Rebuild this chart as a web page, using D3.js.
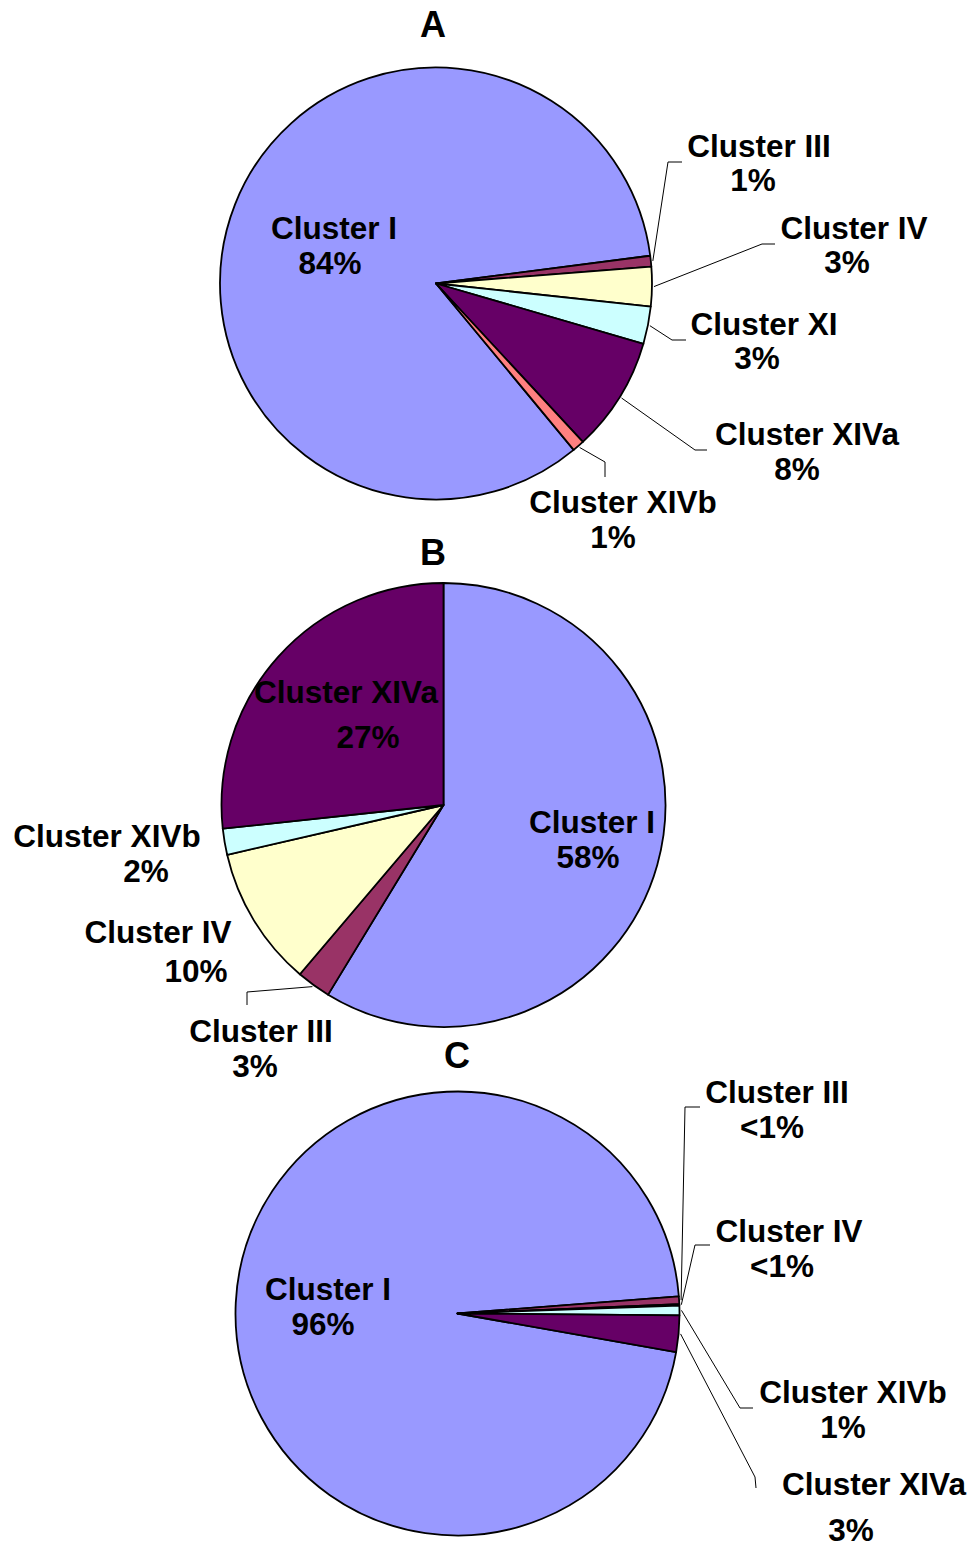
<!DOCTYPE html>
<html>
<head>
<meta charset="utf-8">
<script src="https://cdn.jsdelivr.net/npm/d3@7"></script>
<style>
  body { margin: 0; background: #fff; }
  svg text { font-family: "Liberation Sans", Arial, sans-serif; font-weight: bold; fill: #000; }
</style>
</head>
<body>
<svg id="chart" width="974" height="1548"></svg>
<script>
// ---- data (percent of clones per cluster) ----
const panels = ["A", "B", "C"];

const clustersA = ["Cluster I", "Cluster III", "Cluster IV", "Cluster XI", "Cluster XIVa", "Cluster XIVb"];
const valuesA = [83.95, 0.8, 2.95, 2.8, 8.6, 0.9];
const pctA = ["84%", "1%", "3%", "3%", "8%", "1%"];
const colorsA = ["#9999FF", "#993366", "#FFFFCC", "#CCFFFF", "#660066", "#FF8080"];

const clustersB = ["Cluster I", "Cluster III", "Cluster IV", "Cluster XIVb", "Cluster XIVa"];
const valuesB = [58.7, 2.5, 10.2, 1.9, 26.7];
const pctB = ["58%", "3%", "10%", "2%", "27%"];
const colorsB = ["#9999FF", "#993366", "#FFFFCC", "#CCFFFF", "#660066"];

const clustersC = ["Cluster I", "Cluster III", "Cluster IV", "Cluster XIVb", "Cluster XIVa"];
const valuesC = [96.0, 0.55, 0.1, 0.7, 2.65];
const pctC = ["96%", "<1%", "<1%", "1%", "3%"];
const colorsC = ["#9999FF", "#993366", "#FFFFCC", "#CCFFFF", "#660066"];

// ---- layout ----
// label: [x line1, y line1, x line2, y line2], leader: [elbow x, elbow y, end x, end y]
const layoutA = {
  cx: 436, cy: 283.5, r: 216, rot: 140.4, title: [433, 37],
  labels: [[334, 239, 330, 274], [759, 157, 753, 191], [854, 239, 847, 273],
           [764, 335, 757, 369], [807, 445, 797, 480], [623, 513, 613, 548]],
  leaders: [null, [668, 162, 682, 162], [762, 244, 775, 244],
            [672, 340, 686, 340], [695, 450, 707, 450], [605, 462, 605, 477]]
};
const layoutB = {
  cx: 443.5, cy: 805, r: 222, rot: 0, title: [433, 565],
  labels: [[592, 833, 588, 868], [261, 1042, 255, 1077], [158, 943, 196, 982],
           [107, 847, 146, 882], [346, 703, 368, 748]],
  leaders: [null, [247, 992, 247, 1005], null, null, null]
};
const layoutC = {
  cx: 457.5, cy: 1313.5, r: 222, rot: 100, title: [457, 1068],
  labels: [[328, 1300, 323, 1335], [777, 1103, 772, 1138], [789, 1242, 782, 1277],
           [853, 1403, 843, 1438], [874, 1495, 851, 1541]],
  leaders: [null, [685, 1107, 700, 1107], [695, 1245, 710, 1245],
            [740, 1408, 753, 1408], [755, 1477, 756, 1488]]
};

const svg = d3.select("#chart");

function drawPie(title, names, values, pcts, colors, lay) {
  const g = svg.append("g");
  const start = lay.rot * Math.PI / 180;

  const pie = d3.pie().sort(null).value(d => d)
    .startAngle(start).endAngle(start + 2 * Math.PI);
  const arcs = pie(values);

  const arc = d3.arc().innerRadius(0).outerRadius(lay.r);
  const edge = d3.arc().innerRadius(lay.r + 2).outerRadius(lay.r + 2);

  const body = g.append("g").attr("transform", `translate(${lay.cx},${lay.cy})`);
  body.selectAll("path")
    .data(arcs)
    .enter().append("path")
    .attr("d", arc)
    .attr("fill", (d, i) => colors[i])
    .attr("stroke", "#000")
    .attr("stroke-width", 1.8)
    .attr("stroke-linejoin", "round");

  // leader lines
  const line = d3.line();
  arcs.forEach((d, i) => {
    const ld = lay.leaders[i];
    if (!ld) return;
    const p = edge.centroid(d);
    g.append("path")
      .attr("d", line([[lay.cx + p[0], lay.cy + p[1]], [ld[0], ld[1]], [ld[2], ld[3]]]))
      .attr("fill", "none")
      .attr("stroke", "#000")
      .attr("stroke-width", 1);
  });

  // data labels
  names.forEach((name, i) => {
    const lb = lay.labels[i];
    g.append("text").attr("x", lb[0]).attr("y", lb[1])
      .attr("text-anchor", "middle").attr("font-size", 31.5).text(name);
    g.append("text").attr("x", lb[2]).attr("y", lb[3])
      .attr("text-anchor", "middle").attr("font-size", 31.5).text(pcts[i]);
  });

  g.append("text")
    .attr("x", lay.title[0]).attr("y", lay.title[1])
    .attr("text-anchor", "middle").attr("font-size", 36)
    .text(title);
}

drawPie(panels[0], clustersA, valuesA, pctA, colorsA, layoutA);
drawPie(panels[1], clustersB, valuesB, pctB, colorsB, layoutB);
drawPie(panels[2], clustersC, valuesC, pctC, colorsC, layoutC);
</script>
</body>
</html>
